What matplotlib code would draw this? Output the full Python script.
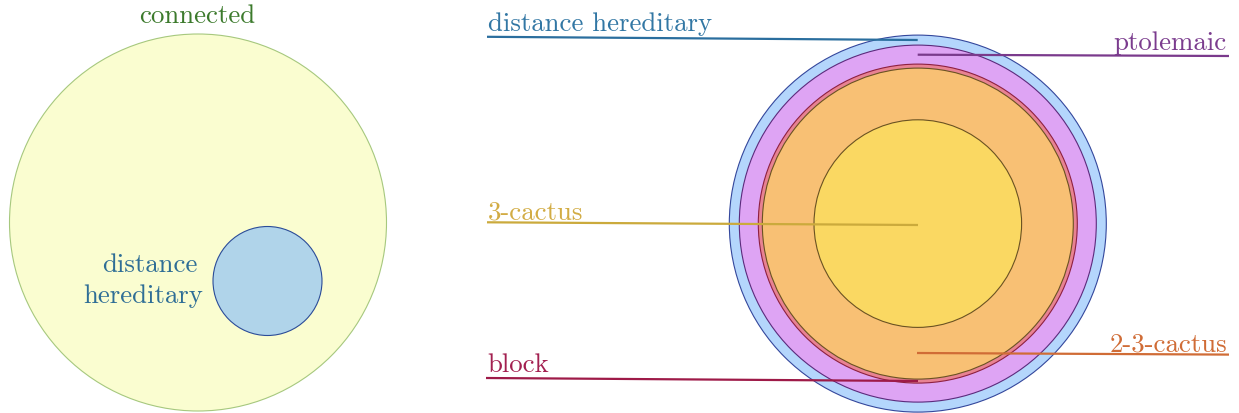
import matplotlib
matplotlib.use("Agg")
import matplotlib.pyplot as plt
from matplotlib.patches import Circle

# left diagram: connected graphs containing distance hereditary graphs
left_names = ["connected", "distance\nhereditary"]
left_centers = [(198, 223.5), (267.5, 282)]
left_radii = [188.5, 54.5]
left_fills = ["#fafdd0", "#b0d4ea"]
left_edges = ["#a6c87e", "#2b4c98"]

# right diagram: nested classes, outermost first
right_names = ["distance hereditary", "ptolemaic", "block", "2-3-cactus", "3-cactus"]
right_center = (917.8, 224.6)
right_radii = [188.5, 178.5, 159.5, 155.5, 103.8]
right_fills = ["#b4d6fc", "#dea4f4", "#e88292", "#f8c074", "#fad862"]
right_edges = ["#34479c", "#5c2a7c", "#8e2040", "#6a5222", "#6a5222"]

# leader lines: start at the label, end inside the circle
leader_start = {"distance hereditary": (487, 37.8), "ptolemaic": (1229, 57.0),
                "3-cactus": (487, 223.3), "2-3-cactus": (1229, 355.6),
                "block": (486, 379.0)}
leader_end = {"distance hereditary": (917.7, 41.0), "ptolemaic": (917.7, 55.7),
              "3-cactus": (918, 226.0), "2-3-cactus": (917, 354.0),
              "block": (918, 382.0)}
label_baseline = {"distance hereditary": 31.0, "ptolemaic": 50.3,
                  "3-cactus": 219.3, "2-3-cactus": 351.7, "block": 371.7}
line_colors = {"distance hereditary": "#2a6e9e", "ptolemaic": "#7a3a8c",
               "3-cactus": "#cbaa3c", "2-3-cactus": "#d06c36", "block": "#9e1a48"}
text_colors = {"distance hereditary": "#3277a4", "ptolemaic": "#7b3c8e",
               "3-cactus": "#d2ac44", "2-3-cactus": "#d06c36", "block": "#a32050"}

fig = plt.figure(figsize=(12.39, 4.14), dpi=100)
ax = fig.add_axes([0, 0, 1, 1])
ax.set_xlim(0, 1239)
ax.set_ylim(414, 0)
ax.set_aspect("equal")
ax.axis("off")

font = "cmr10"
fs = 19.3

for c, r, f, e in zip(left_centers, left_radii, left_fills, left_edges):
    ax.add_patch(Circle(c, r, facecolor=f, edgecolor=e, lw=0.8))

ax.text(197, 23.3, left_names[0], color="#3c7a2c", fontsize=fs, family=font,
        ha="center", va="baseline")
inner_lines = left_names[1].split("\n")
ax.text(197, 271.7, inner_lines[0], color="#2f6e96", fontsize=fs, family=font,
        ha="right", va="baseline")
ax.text(203, 303.0, inner_lines[1], color="#2f6e96", fontsize=fs, family=font,
        ha="right", va="baseline")

for r, f, e in zip(right_radii, right_fills, right_edges):
    ax.add_patch(Circle(right_center, r, facecolor=f, edgecolor=e, lw=0.8))

for name in right_names:
    (x0, y0), (x1, y1) = leader_start[name], leader_end[name]
    ax.plot([x0, x1], [y0, y1], color=line_colors[name], lw=1.6,
            solid_capstyle="butt")
    if x0 < x1:
        ax.text(x0 + 1, label_baseline[name], name, color=text_colors[name],
                fontsize=fs, family=font, ha="left", va="baseline")
    else:
        ax.text(x0 - 2, label_baseline[name], name, color=text_colors[name],
                fontsize=fs, family=font, ha="right", va="baseline")

fig.savefig("out.png", dpi=100)
